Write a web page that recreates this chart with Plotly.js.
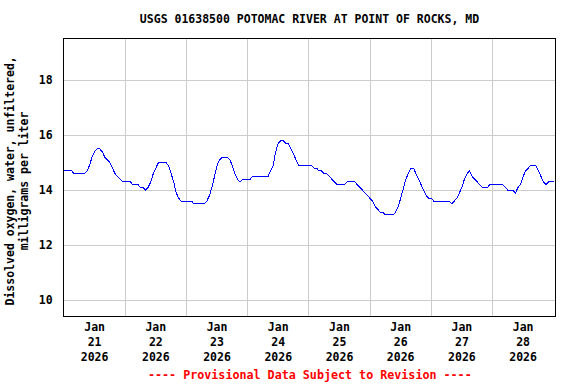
<!DOCTYPE html>
<html>
<head>
<meta charset="utf-8">
<script src="https://cdn.plot.ly/plotly-3.0.1.min.js"></script>
<style>html,body{margin:0;padding:0;background:#fff;}#chart{width:576px;height:384px;}
#chart .js-line{shape-rendering:crispEdges;}</style>
</head>
<body>
<div id="chart"></div>
<script>
// Hourly dissolved oxygen (mg/L), starting 2026-01-21 00:00
var startTime = '2026-01-21T00:00:00';
var day1 = [14.7,14.7,14.7,14.7,14.6,14.6,14.6,14.6,14.6,14.7,14.9,15.2,15.4,15.5,15.5,15.4,15.2,15.1,15.0,14.8,14.6,14.5,14.4,14.3];
var day2 = [14.3,14.3,14.3,14.2,14.2,14.2,14.1,14.1,14.0,14.1,14.3,14.6,14.8,15.0,15.0,15.0,15.0,14.9,14.6,14.3,13.9,13.7,13.6,13.6];
var day3 = [13.6,13.6,13.6,13.5,13.5,13.5,13.5,13.5,13.6,13.8,14.1,14.5,14.9,15.1,15.2,15.2,15.2,15.1,14.9,14.6,14.4,14.3,14.4,14.4];
var day4 = [14.4,14.4,14.5,14.5,14.5,14.5,14.5,14.5,14.5,14.7,14.9,15.4,15.7,15.8,15.8,15.7,15.7,15.5,15.3,15.1,14.9,14.9,14.9,14.9];
var day5 = [14.9,14.9,14.8,14.8,14.7,14.7,14.6,14.6,14.5,14.4,14.3,14.2,14.2,14.2,14.2,14.3,14.3,14.3,14.3,14.2,14.1,14.0,13.9,13.8];
var day6 = [13.7,13.6,13.4,13.3,13.2,13.2,13.1,13.1,13.1,13.1,13.2,13.4,13.7,14.1,14.4,14.6,14.8,14.8,14.6,14.4,14.2,14.0,13.8,13.7];
var day7 = [13.7,13.6,13.6,13.6,13.6,13.6,13.6,13.6,13.5,13.6,13.7,13.9,14.1,14.4,14.6,14.7,14.5,14.4,14.3,14.2,14.1,14.1,14.1,14.2];
var day8 = [14.2,14.2,14.2,14.2,14.2,14.1,14.0,14.0,14.0,13.9,14.1,14.2,14.5,14.7,14.8,14.9,14.9,14.9,14.7,14.5,14.3,14.2,14.3,14.3,14.3];

var tickDates = ['2026-01-21','2026-01-22','2026-01-23','2026-01-24','2026-01-25','2026-01-26','2026-01-27','2026-01-28'];
var tickLabels = ['Jan<br>21<br>2026','Jan<br>22<br>2026','Jan<br>23<br>2026','Jan<br>24<br>2026','Jan<br>25<br>2026','Jan<br>26<br>2026','Jan<br>27<br>2026','Jan<br>28<br>2026'];
var yTicks = [10,12,14,16,18];

var values = [].concat(day1,day2,day3,day4,day5,day6,day7,day8);
var t0 = new Date(startTime + 'Z').getTime();
function iso(ms){ return new Date(ms).toISOString().slice(0,19).replace('T',' '); }
var times = values.map(function(v,i){ return iso(t0 + i*3600000); });
var noonTicks = tickDates.map(function(d){ return d + ' 12:00'; });
var midnights = tickDates.slice(1).map(function(d){ return d + ' 00:00'; });

var mono = 'DejaVu Sans Mono, monospace';
var trace = {
  x: times, y: values, type: 'scatter', mode: 'lines',
  line: {color: '#0000ff', width: 1, shape: 'linear'},
  hoverinfo: 'skip'
};
var layout = {
  width: 576, height: 384,
  margin: {l: 64, r: 21, t: 39, b: 68},
  paper_bgcolor: '#ffffff', plot_bgcolor: '#ffffff',
  showlegend: false,
  title: {text: 'USGS 01638500 POTOMAC RIVER AT POINT OF ROCKS, MD',
          font: {family: mono, size: 11.5, color: '#000', weight: 'bold'},
          x: 0.5, xref: 'paper', xanchor: 'center', y: 1 - 19/384, yanchor: 'middle'},
  xaxis: {
    type: 'date',
    range: ['2026-01-21 00:00', '2026-01-29 00:30'],
    tickmode: 'array', tickvals: noonTicks, ticktext: tickLabels,
    showgrid: false, ticks: '', zeroline: false,
    tickfont: {family: mono, size: 11.5, color: '#000', weight: 'bold'},
    showline: true, mirror: true, linecolor: '#000', linewidth: 1,
    minor: {tickmode: 'array', tickvals: midnights, showgrid: true, gridcolor: '#cccccc', gridwidth: 1, ticks: ''}
  },
  yaxis: {
    range: [9.42, 19.5],
    tickmode: 'array', tickvals: yTicks, ticktext: yTicks.map(String),
    showgrid: true, gridcolor: '#cccccc', gridwidth: 1,
    zeroline: false, ticks: '', ticklabelstandoff: 8,
    tickfont: {family: mono, size: 11.5, color: '#000', weight: 'bold'},
    showline: true, mirror: true, linecolor: '#000', linewidth: 1
  },
  annotations: [
    {text: 'Dissolved oxygen, water, unfiltered,<br>milligrams per liter',
     xref: 'paper', yref: 'paper', x: 0, y: 0.5, xshift: -47, yshift: -4,
     xanchor: 'center', yanchor: 'middle', textangle: -90, showarrow: false,
     font: {family: mono, size: 11.5, color: '#000', weight: 'bold'}},
    {text: '---- Provisional Data Subject to Revision ----',
     xref: 'paper', yref: 'paper', x: 0.5, y: 0, yshift: -59, xshift: 0,
     xanchor: 'center', yanchor: 'middle', showarrow: false,
     font: {family: mono, size: 11.7, color: '#ff0000', weight: 'bold'}}
  ]
};
Plotly.newPlot('chart', [trace], layout, {staticPlot: true, displayModeBar: false});
</script>
</body>
</html>
